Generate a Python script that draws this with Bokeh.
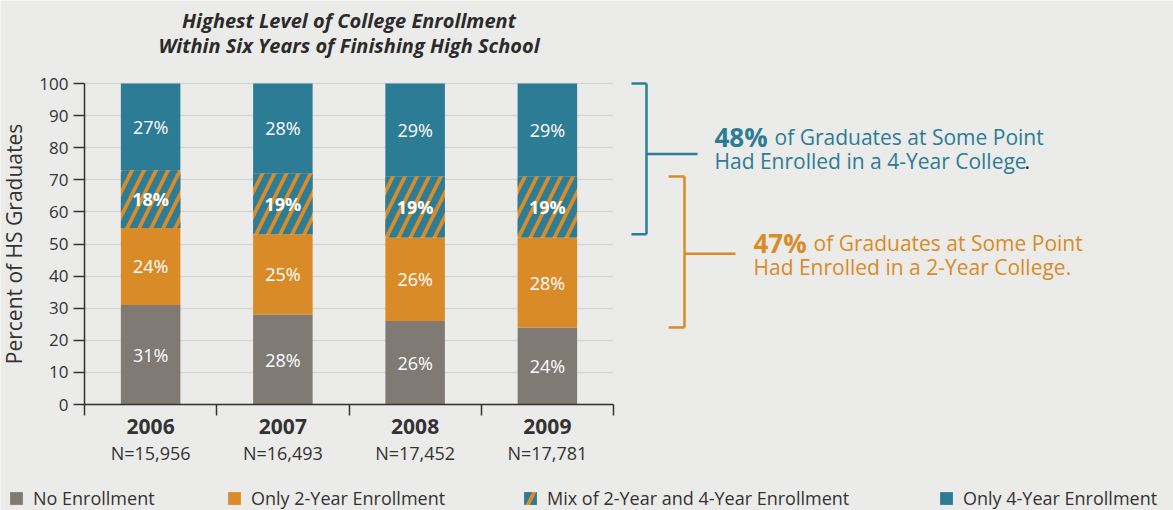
import numpy as np
from bokeh.plotting import figure
from bokeh.models import (ColumnDataSource, Range1d, FixedTicker, LinearAxis, Label,
                          Arrow, Legend, LegendItem, Grid)
from bokeh.embed import file_html
from bokeh.resources import INLINE

# ---------------- data ----------------
years = ["2006", "2007", "2008", "2009"]
n_labels = ["N=15,956", "N=16,493", "N=17,452", "N=17,781"]
no_enroll = [31, 28, 26, 24]
only_2yr = [24, 25, 26, 28]
mix_2_4 = [18, 19, 19, 19]
only_4yr = [27, 28, 29, 29]
series_names = ["No Enrollment", "Only 2-Year Enrollment",
                "Mix of 2-Year and 4-Year Enrollment", "Only 4-Year Enrollment"]
y_ticks = list(range(0, 101, 10))
share_4yr = "48%"
share_2yr = "47%"
title_lines = ["Highest Level of College Enrollment",
               "Within Six Years of Finishing High School"]
note_4yr = ["of Graduates at Some Point", "Had Enrolled in a 4-Year College"]
note_2yr = ["of Graduates at Some Point", "Had Enrolled in a 2-Year College."]

# ---------------- style ----------------
BG = "#ebebe9"
GRAY = "#807a74"
ORANGE = "#d98b28"
TEAL = "#2d7c96"
DARK = "#333333"
GRID = "#d5d5d3"
FONT = "Open Sans"

W_PX, H_PX = 1173, 510
X0_PX, X4_PX = 84, 613      # screen position of x=0 and x=4
Y0_PX, Y100_PX = 404, 83    # screen position of y=0 and y=100
sx = (X4_PX - X0_PX) / 4.0
sy = (Y0_PX - Y100_PX) / 100.0

def px_x(px):
    return (px - X0_PX) / sx

def px_y(py):
    return (Y0_PX - py) / sy

xs = [i + 0.5 for i in range(len(years))]
stack = np.array([no_enroll, only_2yr, mix_2_4, only_4yr], dtype=float)
tops = np.cumsum(stack, axis=0)
bottoms = tops - stack
mids = (tops + bottoms) / 2

src = ColumnDataSource(dict(
    x=xs,
    b0=bottoms[0], t0=tops[0], b1=bottoms[1], t1=tops[1],
    b2=bottoms[2], t2=tops[2], b3=bottoms[3], t3=tops[3],
    m0=mids[0], m1=mids[1], m2=mids[2], m3=mids[3],
    l0=[f"{v}%" for v in no_enroll], l1=[f"{v}%" for v in only_2yr],
    l2=[f"{v}%" for v in mix_2_4], l3=[f"{v}%" for v in only_4yr],
))

p = figure(width=W_PX, height=H_PX,
           x_range=Range1d(px_x(0), px_x(W_PX)), y_range=Range1d(px_y(H_PX), px_y(0)),
           output_backend="svg", toolbar_location=None,
           min_border=0, min_border_left=0, min_border_right=0, min_border_top=0,
           min_border_bottom=0,
           background_fill_color=BG, border_fill_color=BG, outline_line_color=None)

# grid (limited to the bar area)
p.xgrid.visible = False
if "cross_bounds" in Grid.properties():
    p.ygrid.cross_bounds = (0, 4)
    p.ygrid.grid_line_color = GRID
    p.ygrid.grid_line_width = 1.5
else:
    p.ygrid.visible = False
    p.segment(x0=0, x1=4, y0=y_ticks, y1=y_ticks, line_color=GRID, line_width=1.5,
              level="underlay")

# y axis
ya = p.yaxis[0]
ya.fixed_location = 0
ya.ticker = FixedTicker(ticks=y_ticks)
ya.bounds = (0, 100)
ya.major_tick_out = 11
ya.major_tick_in = 0
ya.major_tick_line_color = DARK
ya.major_tick_line_width = 1.5
ya.minor_tick_line_color = None
ya.axis_line_color = DARK
ya.axis_line_width = 1.5
ya.major_label_text_font = FONT
ya.major_label_text_font_size = "17px"
ya.major_label_text_color = DARK
ya.major_label_standoff = 5
ya.axis_label = "Percent of HS Graduates"
ya.axis_label_text_font = FONT
ya.axis_label_text_font_size = "21px"
ya.axis_label_text_font_style = "normal"
ya.axis_label_text_color = DARK
ya.axis_label_standoff = 8

# x axis (years)
xa = p.xaxis[0]
xa.fixed_location = 0
xa.ticker = FixedTicker(ticks=xs, minor_ticks=list(range(len(years) + 1)))
xa.major_label_overrides = {x: y for x, y in zip(xs, years)}
xa.bounds = (0, 4)
xa.major_tick_out = 0
xa.major_tick_in = 0
xa.minor_tick_out = 11
xa.minor_tick_in = 0
xa.minor_tick_line_color = DARK
xa.minor_tick_line_width = 1.5
xa.axis_line_color = DARK
xa.axis_line_width = 1.5
xa.major_label_text_font = FONT
xa.major_label_text_font_size = "21px"
xa.major_label_text_font_style = "bold"
xa.major_label_text_color = DARK
xa.major_label_standoff = 3

# second x axis (N=)
na = LinearAxis(ticker=FixedTicker(ticks=xs), bounds=(0, 4), fixed_location=px_y(439),
                major_label_overrides={x: n for x, n in zip(xs, n_labels)},
                axis_line_color=None, major_tick_line_color=None, minor_tick_line_color=None,
                major_tick_out=0, major_tick_in=0,
                major_label_text_font=FONT, major_label_text_font_size="18px",
                major_label_text_color=DARK, major_label_standoff=1)
p.add_layout(na, "below")

# bars
W = 0.45
r0 = p.vbar(x="x", bottom="b0", top="t0", width=W, source=src, fill_color=GRAY, line_color=None)
r1 = p.vbar(x="x", bottom="b1", top="t1", width=W, source=src, fill_color=ORANGE, line_color=None)
r2 = p.vbar(x="x", bottom="b2", top="t2", width=W, source=src, fill_color=ORANGE, line_color=None,
            hatch_pattern="/", hatch_color=TEAL, hatch_scale=24, hatch_weight=7)
r3 = p.vbar(x="x", bottom="b3", top="t3", width=W, source=src, fill_color=TEAL, line_color=None)

for i in range(4):
    p.text(x="x", y=f"m{i}", text=f"l{i}", source=src, text_align="center",
           text_baseline="middle", text_color="white", text_font_size="18px",
           text_font={"value": FONT}, text_font_style="bold" if i == 2 else "normal")

# title
for txt, py in zip(title_lines, [20, 45]):
    p.add_layout(Label(x=2, y=px_y(py), text=txt, text_align="center", text_baseline="middle",
                       text_font=FONT, text_font_size="20px", text_font_style="bold italic",
                       text_color="#2b2b2b"))

# brackets
def bracket(x_tip, x_stem, x_branch, y_top, y_bot, y_mid, color):
    segs = [(x_tip, y_top, x_stem, y_top), (x_stem, y_top, x_stem, y_bot),
            (x_tip, y_bot, x_stem, y_bot), (x_stem, y_mid, x_branch, y_mid)]
    for a, b, c, d in segs:
        p.add_layout(Arrow(x_start=a, y_start=b, x_end=c, y_end=d, start=None, end=None,
                           line_color=color, line_width=2.5))

bracket(px_x(631), px_x(646), px_x(697), 100, 53, 78, TEAL)
bracket(px_x(668), px_x(684), px_x(735), 71, 24, 47, ORANGE)

def note(x0, x1, y1, y2, big, lines, color):
    p.add_layout(Label(x=x0, y=y1, text=big, text_font=FONT, text_font_size="26px",
                       text_font_style="bold", text_color=color, text_baseline="middle"))
    p.add_layout(Label(x=x1, y=y1, text=lines[0], text_font=FONT, text_font_size="21px",
                       text_color=color, text_baseline="middle"))
    p.add_layout(Label(x=x0, y=y2, text=lines[1], text_font=FONT, text_font_size="21px",
                       text_color=color, text_baseline="middle"))

note(px_x(714), px_x(774), px_y(136), px_y(160), share_4yr, note_4yr, TEAL)
note(px_x(753), px_x(813), px_y(242), px_y(266), share_2yr, note_2yr, ORANGE)
p.add_layout(Label(x=px_x(1024), y=px_y(160), text=".", text_font=FONT, text_font_size="21px",
                   text_color="#222222", text_baseline="middle"))

# legends
for r, name, xoff in zip([r0, r1, r2, r3], series_names, [8, 226, 522, 938]):
    leg = Legend(items=[LegendItem(label=name, renderers=[r])], location=(xoff, 0),
                 orientation="horizontal", background_fill_alpha=0, border_line_color=None,
                 padding=0, margin=0, glyph_width=16, glyph_height=16, label_standoff=9,
                 label_text_font=FONT, label_text_font_size="18px", label_text_color=DARK,
                 spacing=0)
    p.add_layout(leg, "center")

open("out.html", "w").write(file_html(p, INLINE))
